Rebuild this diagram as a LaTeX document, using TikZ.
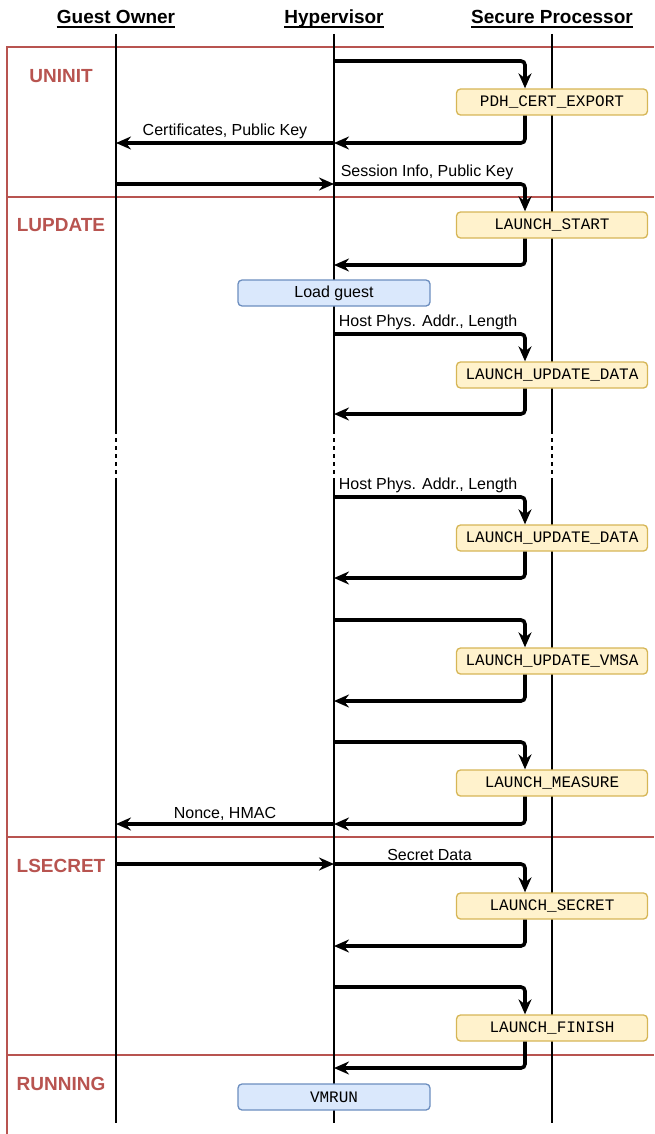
\documentclass[tikz,border=0pt]{standalone}
\usepackage{fontspec}
\usepackage{xcolor}
\usetikzlibrary{arrows.meta}
\setmainfont{Liberation Sans}
\newfontfamily\monofont{Liberation Mono}

\definecolor{phasered}{HTML}{B85450}
\definecolor{spfill}{HTML}{FFF2CC}
\definecolor{spdraw}{HTML}{D6B656}
\definecolor{hvfill}{HTML}{DAE8FC}
\definecolor{hvdraw}{HTML}{6C8EBF}

\tikzset{
  life/.style={line width=1.3pt},
  phaseline/.style={draw=phasered, line width=1.3pt},
  phasename/.style={text=phasered, font=\fontsize{19}{22}\selectfont\bfseries},
  header/.style={font=\fontsize{19}{22}\selectfont\bfseries, inner sep=0pt, anchor=base},
  lbl/.style={font=\fontsize{16}{19}\selectfont, inner sep=2pt},
  spbox/.style={draw=spdraw, fill=spfill, line width=1.3pt, rounded corners=4pt,
    minimum width=191pt, minimum height=26pt, inner sep=0pt,
    font=\monofont\fontsize{16}{19}\selectfont},
  hvbox/.style={draw=hvdraw, fill=hvfill, line width=1.3pt, rounded corners=4pt,
    minimum width=192pt, minimum height=26pt, inner sep=0pt,
    font=\fontsize{16}{19}\selectfont},
  msg/.style={line width=3.6pt, rounded corners=4pt,
    -{Stealth[length=15pt,width=13pt,inset=5pt]}},
}

\begin{document}
\begin{tikzpicture}[x=1pt, y=-1pt]
  \useasboundingbox (0,0) rectangle (654,1134);

  % phase frames
  \draw[phaseline] (7,1134) -- (7,47) -- (654,47);
  \foreach \y in {197,837,1055}
    \draw[phaseline] (7,\y) -- (654,\y);

  \node[phasename] (uninit) at (61,76) {UNINIT};
  \node[phasename] (lupdate) at (61,225) {LUPDATE};
  \node[phasename] (lsecret) at (61,866) {LSECRET};
  \node[phasename] (running) at (61,1084) {RUNNING};

  % lifelines with underlined headers
  \node[header] (owner) at (116,24) {Guest Owner};
  \node[header] (hyper) at (334,24) {Hypervisor};
  \node[header] (secproc) at (552,24) {Secure Processor};
  \foreach \h in {owner,hyper,secproc}
    \draw[line width=1.3pt] ([yshift=-3pt]\h.base west) -- ([yshift=-3pt]\h.base east);
  \foreach \x in {116,334,552} {
    \draw[life] (\x,34) -- (\x,430);
    \draw[life, dash pattern=on 4pt off 4pt] (\x,430) -- (\x,480);
    \draw[life] (\x,480) -- (\x,1123);
  }

  % points on the lifelines
  \foreach \y in {61,143,184,265,334,414,497,578,620,701,742,824,864,946,987,1068}
    \coordinate (hv\y) at (334,\y);
  \foreach \y in {143,184,824,864}
    \coordinate (go\y) at (116,\y);

  % commands of the secure processor
  \node[spbox] (pdh) at (552,102) {PDH\_CERT\_EXPORT};
  \node[spbox] (lstart) at (552,225) {LAUNCH\_START};
  \node[spbox] (ldataA) at (552,375) {LAUNCH\_UPDATE\_DATA};
  \node[spbox] (ldataB) at (552,538) {LAUNCH\_UPDATE\_DATA};
  \node[spbox] (lvmsa) at (552,661) {LAUNCH\_UPDATE\_VMSA};
  \node[spbox] (lmeasure) at (552,783) {LAUNCH\_MEASURE};
  \node[spbox] (lsecretcmd) at (552,906) {LAUNCH\_SECRET};
  \node[spbox] (lfinish) at (552,1028) {LAUNCH\_FINISH};

  \node[hvbox] (loadguest) at (334,293) {Load guest};
  \node[hvbox, font=\monofont\fontsize{16}{19}\selectfont] (vmrun) at (334,1097) {VMRUN};

  % UNINIT
  \draw[msg] (hv61) -| ([xshift=-27pt]pdh.north);
  \draw[msg] ([xshift=-27pt]pdh.south) |- (hv143);
  \draw[msg] (hv143) -- node[lbl, above] {Certificates, Public Key} (go143);
  \draw[msg] (go184) -- (hv184);
  \draw[msg] (hv184) -| node[lbl, pos=0, anchor=south west, xshift=3pt] {Session Info, Public Key}
    ([xshift=-27pt]lstart.north);

  % LUPDATE
  \draw[msg] ([xshift=-27pt]lstart.south) |- (hv265);
  \draw[msg] (hv334) -| node[lbl, pos=0, anchor=south west, xshift=1pt] {Host Phys. Addr., Length}
    ([xshift=-27pt]ldataA.north);
  \draw[msg] ([xshift=-27pt]ldataA.south) |- (hv414);
  \draw[msg] (hv497) -| node[lbl, pos=0, anchor=south west, xshift=1pt] {Host Phys. Addr., Length}
    ([xshift=-27pt]ldataB.north);
  \draw[msg] ([xshift=-27pt]ldataB.south) |- (hv578);
  \draw[msg] (hv620) -| ([xshift=-27pt]lvmsa.north);
  \draw[msg] ([xshift=-27pt]lvmsa.south) |- (hv701);
  \draw[msg] (hv742) -| ([xshift=-27pt]lmeasure.north);
  \draw[msg] ([xshift=-27pt]lmeasure.south) |- (hv824);
  \draw[msg] (hv824) -- node[lbl, above] {Nonce, HMAC} (go824);

  % LSECRET
  \draw[msg] (go864) -- (hv864);
  \draw[msg] (hv864) -| node[lbl, pos=0.25, above] {Secret Data}
    ([xshift=-27pt]lsecretcmd.north);
  \draw[msg] ([xshift=-27pt]lsecretcmd.south) |- (hv946);
  \draw[msg] (hv987) -| ([xshift=-27pt]lfinish.north);

  % RUNNING
  \draw[msg] ([xshift=-27pt]lfinish.south) |- (hv1068);
\end{tikzpicture}
\end{document}
